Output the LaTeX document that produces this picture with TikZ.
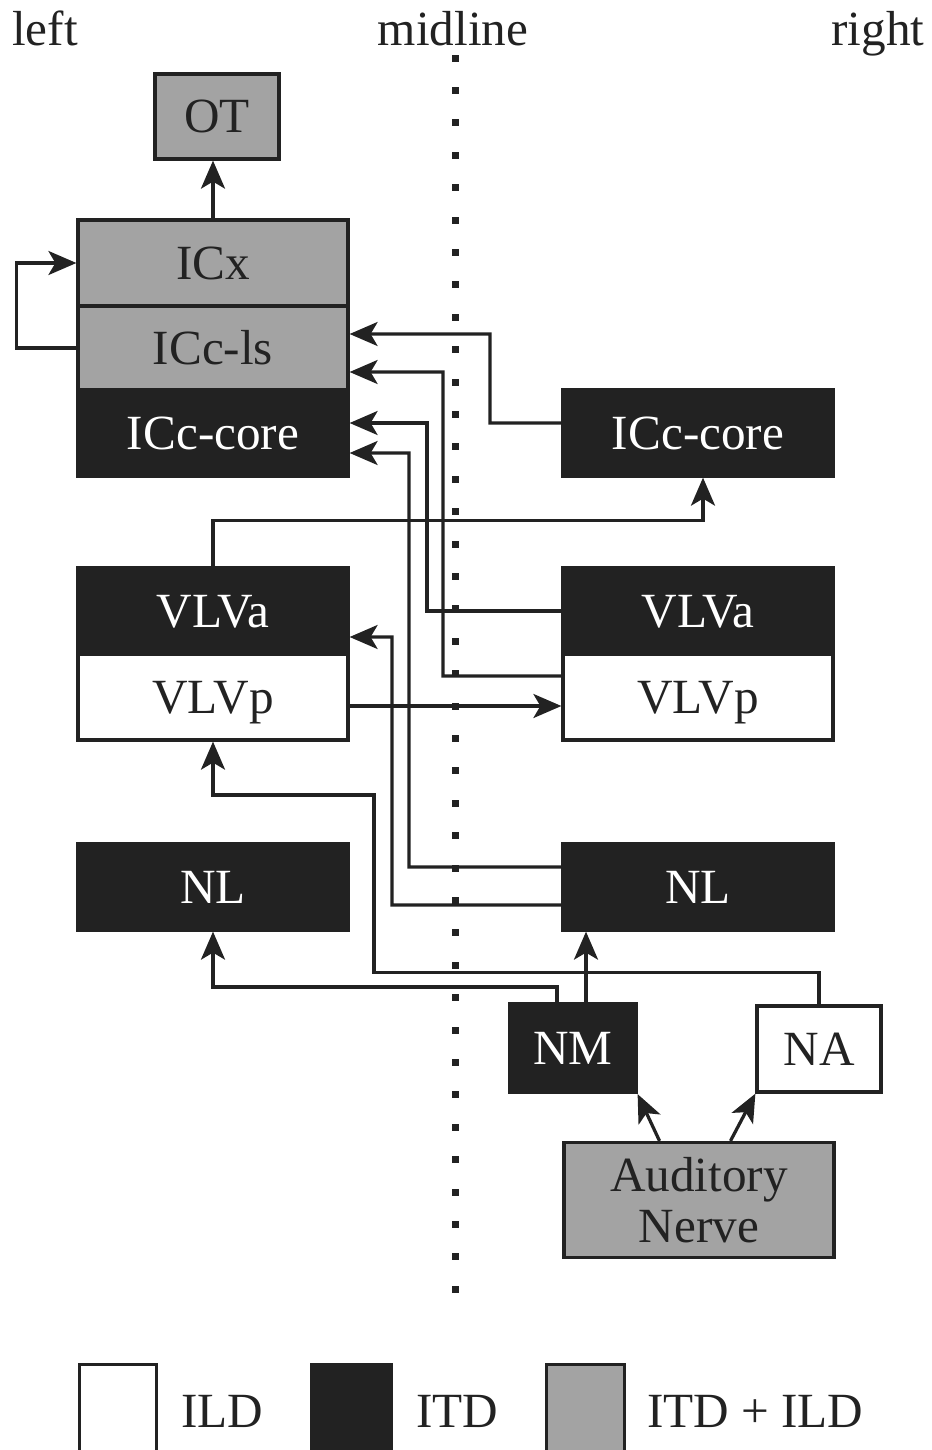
\documentclass[tikz,border=0pt]{standalone}
\usepackage{fontspec}
\setmainfont{Liberation Serif}
\usetikzlibrary{arrows.meta}
\definecolor{itdblack}{HTML}{222222}
\definecolor{bothgray}{HTML}{A3A3A3}

\begin{document}
\begin{tikzpicture}[x=0.02cm, y=-0.02cm, font=\fontsize{28}{34}\selectfont]
    % --- Estilos ---
    \tikzset{
        box/.style={draw=itdblack, line width=0.065cm, minimum width=5.4cm, minimum height=1.72cm, inner sep=0pt, text=itdblack, text height=18.5pt, text depth=0pt},
        ildbox/.style={box, fill=white},
        itdbox/.style={box, fill=itdblack, text=white},
        bothbox/.style={box, fill=bothgray},
        link/.style={draw=itdblack, line width=0.065cm, -{Stealth[length=0.56cm, width=0.48cm, inset=0.14cm]}}
    }
    \useasboundingbox (0,0) rectangle (931,1450);

    % --- Etiquetas superiores y linea media ---
    \node[anchor=base, text=itdblack] (lefttag) at (45,45) {left};
    \node[anchor=base, text=itdblack] (midtag) at (453,45) {midline};
    \node[anchor=base, text=itdblack] (righttag) at (878,45) {right};
    \foreach \k in {0,...,38} {
        \fill[itdblack] (451.5,54.5+32.4*\k) rectangle ++(7,7);
    }

    % --- Nucleos ---
    \node[bothbox, minimum width=2.48cm, minimum height=1.7cm] (ot) at (217,116.5) {OT};
    \node[bothbox] (icx) at (213,263) {ICx};
    \node[bothbox, minimum height=1.68cm] (icls) at (213,348) {ICc-ls};
    \node[itdbox] (lcore) at (213,433) {ICc-core};
    \node[itdbox] (rcore) at (698,433) {ICc-core};
    \node[itdbox] (lva) at (213,611) {VLVa};
    \node[ildbox] (lvp) at (213,697) {VLVp};
    \node[itdbox] (rva) at (698,611) {VLVa};
    \node[ildbox] (rvp) at (698,697) {VLVp};
    \node[itdbox] (lnl) at (213,887) {NL};
    \node[itdbox] (rnl) at (698,887) {NL};
    \node[itdbox, minimum width=2.52cm, minimum height=1.78cm] (nm) at (573,1048) {NM};
    \node[ildbox, minimum width=2.48cm] (na) at (819,1049) {NA};
    \node[bothbox, minimum height=2.3cm, align=center, text height={}, text depth={}, font=\fontsize{28}{29}\selectfont] (an) at (699,1200) {Auditory\\Nerve};

    % --- Conexiones ---
    \draw[link] (icx.north) -- (icx.north |- ot.south);
    \draw[link] (icls.west) -- ++(-60,0) |- (icx.west);
    \draw[link] ([yshift=2mm]rcore.west) -- (490,423) |- ([yshift=2.8mm]icls.east);
    \draw[link] ([yshift=4.2mm]rvp.west) -- (443,676) |- ([yshift=-4.8mm]icls.east);
    \draw[link] (rva.west) -- (427,611) |- ([yshift=2mm]lcore.east);
    \draw[link] ([yshift=4mm]rnl.west) -- (409,867) |- ([yshift=-4mm]lcore.east);
    \draw[link] ([yshift=-3.6mm]rnl.west) -- (392,905) |- ([yshift=-5.2mm]lva.east);
    \draw[link] (lva.north) -- ++(0,-46) -| ([xshift=1mm]rcore.south);
    \draw[link] ([yshift=-1.8mm]lvp.east) -- ([yshift=-1.8mm]rvp.west);
    \draw[link] (na.north) -- ++(0,-32) -| (374,795) -| (lvp.south);
    \draw[link] ([xshift=2.6mm]nm.north) -- ([xshift=2.6mm]nm.north |- rnl.south);
    \draw[link] ([xshift=-3.2mm]nm.north) -- ++(0,-15) -| (lnl.south);
    \draw[link] ([xshift=-0.79cm]an.north) -- (nm.south east);
    \draw[link] ([xshift=0.63cm]an.north) -- (na.south west);

    % --- Leyenda ---
    \node[ildbox, minimum width=1.54cm, minimum height=1.9cm, anchor=north west] (keyild) at (78,1363) {};
    \node[itdbox, minimum width=1.6cm, minimum height=1.9cm, anchor=north west] (keyitd) at (310,1363) {};
    \node[bothbox, minimum width=1.56cm, minimum height=1.9cm, anchor=north west] (keyboth) at (545,1363) {};
    \node[anchor=base west, text=itdblack] (tagild) at (175,1427) {ILD};
    \node[anchor=base west, text=itdblack] (tagitd) at (410,1427) {ITD};
    \node[anchor=base west, text=itdblack] (tagboth) at (641,1427) {ITD + ILD};
\end{tikzpicture}
\end{document}
